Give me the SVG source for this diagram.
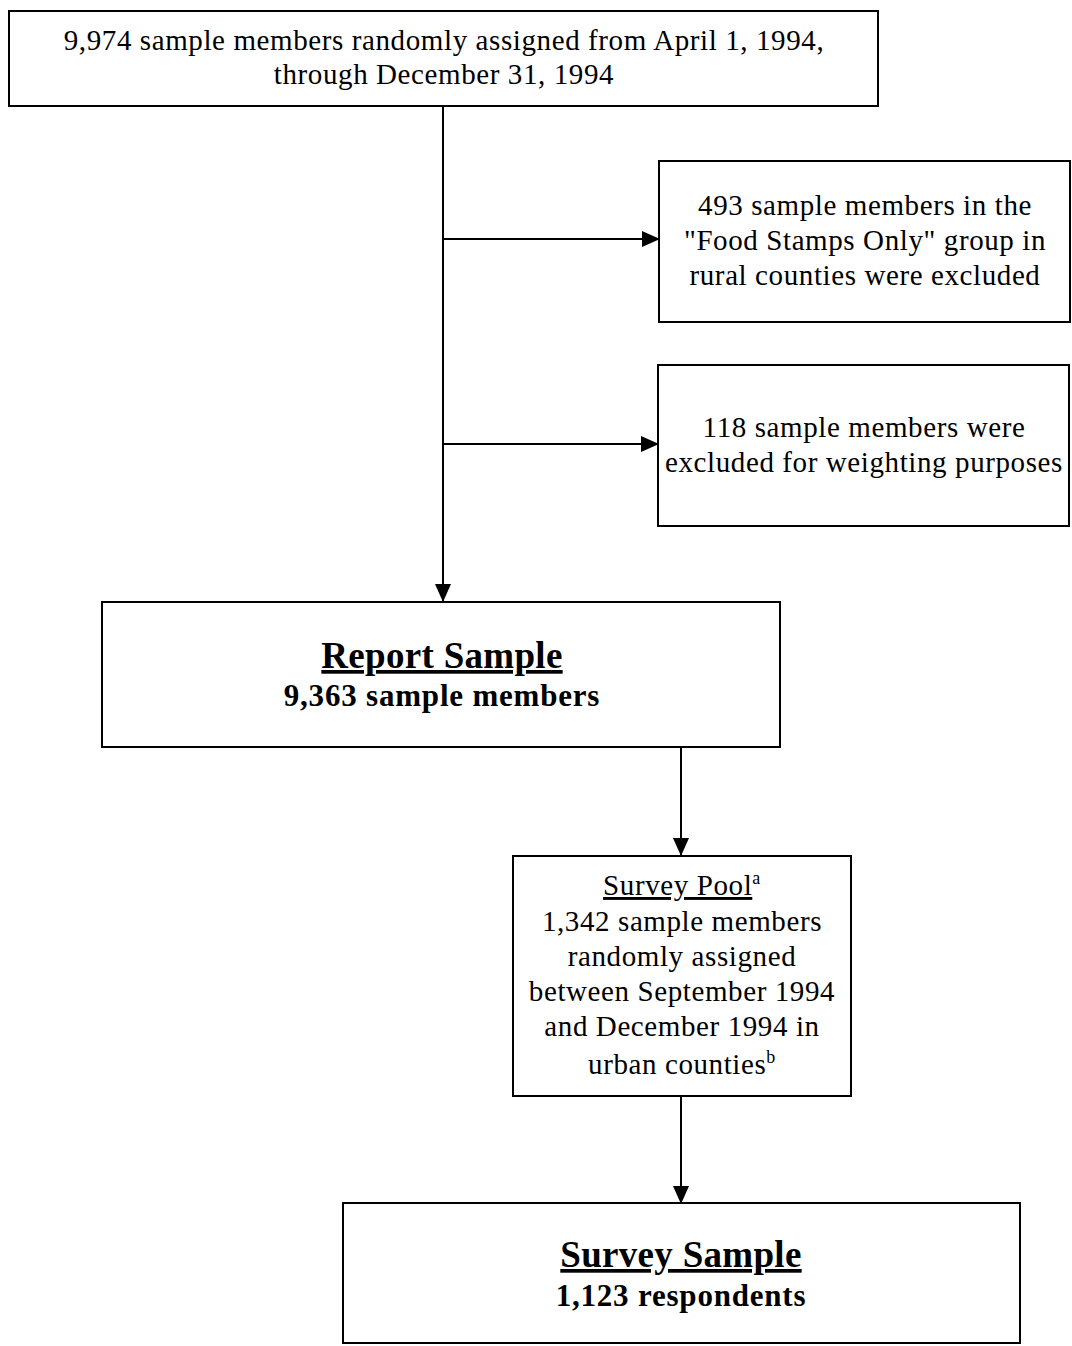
<svg xmlns="http://www.w3.org/2000/svg" width="1072" height="1346" viewBox="0 0 1072 1346">
<style>
.box{fill:#fff;stroke:#000;stroke-width:2}
.t{font-family:"Liberation Serif","Times New Roman",serif;font-size:29px;letter-spacing:0.6px;fill:#000;text-anchor:middle}
.b{font-weight:bold}
.h{font-size:37px;letter-spacing:0.3px}
.s{font-size:31px;letter-spacing:0.8px}
.c{stroke:#000;stroke-width:2;fill:none}
</style>
<defs>
<marker id="av" markerWidth="18" markerHeight="18" refX="17" refY="9" orient="auto" markerUnits="userSpaceOnUse" viewBox="0 0 18 18">
<path d="M0,1 L18,9 L0,17 z" fill="#000"/>
</marker>
</defs>
<g id="connectors">
<line class="c" x1="443" y1="106" x2="443" y2="601" marker-end="url(#av)"/>
<line class="c" x1="443" y1="239" x2="659" y2="239" marker-end="url(#av)"/>
<line class="c" x1="443" y1="444" x2="658" y2="444" marker-end="url(#av)"/>
<line class="c" x1="681" y1="747" x2="681" y2="855" marker-end="url(#av)"/>
<line class="c" x1="681" y1="1096" x2="681" y2="1203" marker-end="url(#av)"/>
</g>
<g id="node-start">
<rect class="box" x="9" y="11" width="869" height="95"/>
<text class="t" x="444" y="50">9,974 sample members randomly assigned from April 1, 1994,</text>
<text class="t" x="444" y="84">through December 31, 1994</text>
</g>
<g id="node-foodstamps">
<rect class="box" x="659" y="161" width="411" height="161"/>
<text class="t" x="865" y="215">493 sample members in the</text>
<text class="t" x="865" y="250">"Food Stamps Only" group in</text>
<text class="t" x="865" y="285">rural counties were excluded</text>
</g>
<g id="node-weighting">
<rect class="box" x="658" y="365" width="411" height="161"/>
<text class="t" x="864" y="437">118 sample members were</text>
<text class="t" x="864" y="472">excluded for weighting purposes</text>
</g>
<g id="node-report">
<rect class="box" x="102" y="602" width="678" height="145"/>
<text class="t b h" x="442" y="668" text-decoration="underline">Report Sample</text>
<text class="t b s" x="442" y="706">9,363 sample members</text>
</g>
<g id="node-pool">
<rect class="box" x="513" y="856" width="338" height="240"/>
<text class="t" x="682" y="895"><tspan text-decoration="underline">Survey Pool</tspan><tspan font-size="18" dy="-11">a</tspan></text>
<text class="t" x="682" y="931">1,342 sample members</text>
<text class="t" x="682" y="966">randomly assigned</text>
<text class="t" x="682" y="1001">between September 1994</text>
<text class="t" x="682" y="1036">and December 1994 in</text>
<text class="t" x="682" y="1074">urban counties<tspan font-size="18" dy="-11">b</tspan></text>
</g>
<g id="node-survey">
<rect class="box" x="343" y="1203" width="677" height="140"/>
<text class="t b h" x="681" y="1267" text-decoration="underline">Survey Sample</text>
<text class="t b s" x="681" y="1306">1,123 respondents</text>
</g>
</svg>
